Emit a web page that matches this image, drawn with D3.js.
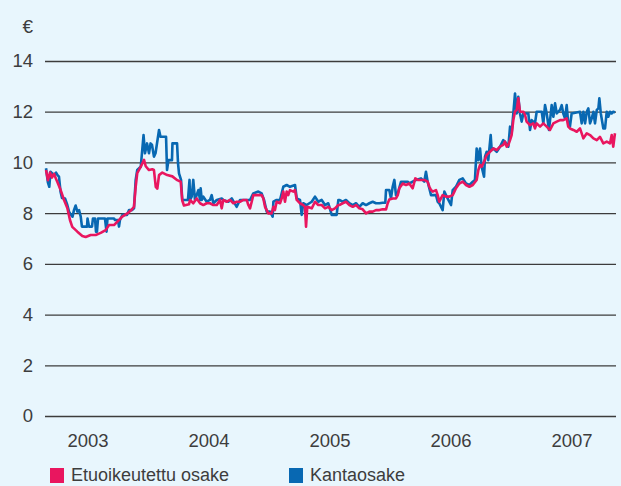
<!DOCTYPE html>
<html>
<head>
<meta charset="utf-8">
<script src="https://cdn.jsdelivr.net/npm/d3@7"></script>
<style>
  html, body { margin: 0; padding: 0; background: #e8f6fd; }
  svg { display: block; font-family: "Liberation Sans", Arial, sans-serif; }
</style>
</head>
<body>
<div id="chart"></div>
<script>
// dates as decimal years, values in euros
const prefYears = [2002.653, 2002.669, 2002.686, 2002.702, 2002.719, 2002.736, 2002.746, 2002.774, 2002.802, 2002.829,
  2002.851, 2002.870, 2002.912, 2002.953, 2002.981, 2003.022, 2003.064, 2003.105, 2003.146, 2003.174,
  2003.215, 2003.242, 2003.283, 2003.325, 2003.358, 2003.380, 2003.394, 2003.407, 2003.436, 2003.463,
  2003.477, 2003.504, 2003.531, 2003.545, 2003.560, 2003.573, 2003.587, 2003.614, 2003.655, 2003.697,
  2003.738, 2003.766, 2003.779, 2003.793, 2003.835, 2003.843, 2003.870, 2003.898, 2003.926, 2003.953,
  2003.981, 2004.008, 2004.036, 2004.064, 2004.091, 2004.105, 2004.118, 2004.146, 2004.174, 2004.201,
  2004.229, 2004.256, 2004.284, 2004.312, 2004.325, 2004.339, 2004.353, 2004.366, 2004.394, 2004.435,
  2004.449, 2004.463, 2004.477, 2004.490, 2004.518, 2004.532, 2004.545, 2004.559, 2004.587, 2004.601,
  2004.614, 2004.628, 2004.642, 2004.655, 2004.669, 2004.697, 2004.711, 2004.725, 2004.752, 2004.779,
  2004.793, 2004.802, 2004.812, 2004.849, 2004.876, 2004.903, 2004.931, 2004.959, 2004.986, 2005.014,
  2005.041, 2005.069, 2005.077, 2005.105, 2005.132, 2005.160, 2005.188, 2005.215, 2005.242, 2005.270,
  2005.298, 2005.325, 2005.353, 2005.380, 2005.408, 2005.435, 2005.463, 2005.477, 2005.490, 2005.518,
  2005.545, 2005.560, 2005.573, 2005.601, 2005.628, 2005.655, 2005.683, 2005.705, 2005.725, 2005.752,
  2005.779, 2005.807, 2005.821, 2005.835, 2005.849, 2005.876, 2005.890, 2005.903, 2005.917, 2005.931,
  2005.959, 2005.986, 2006.014, 2006.028, 2006.041, 2006.069, 2006.097, 2006.124, 2006.152, 2006.180,
  2006.212, 2006.226, 2006.240, 2006.253, 2006.267, 2006.295, 2006.322, 2006.350, 2006.378, 2006.405,
  2006.432, 2006.446, 2006.460, 2006.474, 2006.488, 2006.501, 2006.515, 2006.529, 2006.543, 2006.556,
  2006.570, 2006.598, 2006.612, 2006.625, 2006.653, 2006.680, 2006.694, 2006.708, 2006.736, 2006.763,
  2006.791, 2006.818, 2006.846, 2006.874, 2006.901, 2006.928, 2006.956, 2006.969, 2006.983, 2007.011,
  2007.039, 2007.066, 2007.094, 2007.122, 2007.149, 2007.177, 2007.205, 2007.231, 2007.259, 2007.287,
  2007.314, 2007.328, 2007.341, 2007.355];
const prefValues = [9.70, 9.30, 9.60, 9.40, 9.55, 9.35, 9.24, 8.91, 8.52, 8.20,
  7.73, 7.46, 7.27, 7.10, 7.06, 7.14, 7.14, 7.22, 7.33, 7.53,
  7.53, 7.66, 7.86, 7.99, 8.12, 8.25, 9.04, 9.58, 9.83, 10.10,
  9.85, 9.70, 9.73, 9.70, 9.04, 8.97, 9.50, 9.60, 9.50, 9.45,
  9.30, 9.24, 8.50, 8.30, 8.35, 8.52, 8.39, 8.58, 8.39, 8.32,
  8.39, 8.39, 8.32, 8.32, 8.52, 8.19, 8.52, 8.45, 8.52, 8.39,
  8.45, 8.45, 8.52, 8.52, 8.32, 8.19, 8.45, 8.71, 8.71, 8.71,
  8.58, 8.25, 8.12, 7.99, 7.99, 8.25, 8.12, 8.45, 8.39, 8.58,
  8.85, 8.45, 8.85, 8.71, 8.91, 8.85, 8.91, 8.52, 8.39, 8.32,
  8.25, 7.47, 8.25, 8.19, 8.45, 8.32, 8.32, 8.19, 8.25, 8.12,
  8.19, 8.32, 8.32, 8.39, 8.45, 8.32, 8.25, 8.32, 8.19, 8.15,
  7.99, 8.06, 8.06, 8.12, 8.12, 8.15, 8.15, 8.39, 8.54, 8.58,
  8.58, 8.71, 8.98, 9.17, 9.11, 9.17, 8.98, 9.37, 9.31, 9.31,
  9.31, 9.24, 9.04, 8.91, 8.85, 8.91, 8.71, 8.45, 8.58, 8.71,
  8.65, 8.65, 8.71, 8.85, 8.98, 9.17, 9.24, 9.11, 9.04, 9.11,
  9.31, 9.70, 9.90, 9.83, 9.96, 10.29, 10.42, 10.55, 10.49, 10.62,
  10.69, 10.82, 10.62, 10.69, 10.88, 11.08, 11.67, 12.00, 12.07, 12.53,
  12.00, 12.00, 11.87, 11.61, 11.47, 11.54, 11.34, 11.54, 11.41, 11.54,
  11.41, 11.28, 11.54, 11.61, 11.67, 11.67, 11.74, 11.41, 11.34, 11.28,
  11.21, 11.34, 10.95, 11.15, 11.08, 10.95, 10.88, 11.01, 10.75, 10.82,
  10.75, 11.08, 10.62, 11.15];

const commonYears = [2002.653, 2002.669, 2002.680, 2002.690, 2002.719, 2002.736, 2002.748, 2002.760, 2002.773, 2002.785,
  2002.810, 2002.829, 2002.843, 2002.860, 2002.872, 2002.884, 2002.898, 2002.912, 2002.926, 2002.940,
  2002.950, 2002.992, 2002.996, 2003.008, 2003.033, 2003.041, 2003.058, 2003.066, 2003.074, 2003.083,
  2003.140, 2003.153, 2003.161, 2003.215, 2003.223, 2003.248, 2003.256, 2003.264, 2003.285, 2003.322,
  2003.339, 2003.364, 2003.380, 2003.394, 2003.407, 2003.436, 2003.459, 2003.471, 2003.488, 2003.504,
  2003.517, 2003.529, 2003.545, 2003.558, 2003.587, 2003.599, 2003.645, 2003.653, 2003.665, 2003.694,
  2003.698, 2003.736, 2003.744, 2003.752, 2003.769, 2003.779, 2003.826, 2003.839, 2003.843, 2003.857,
  2003.870, 2003.884, 2003.912, 2003.926, 2003.931, 2003.940, 2003.953, 2003.981, 2004.008, 2004.022,
  2004.036, 2004.064, 2004.105, 2004.118, 2004.160, 2004.188, 2004.229, 2004.256, 2004.298, 2004.339,
  2004.366, 2004.408, 2004.435, 2004.455, 2004.477, 2004.504, 2004.526, 2004.532, 2004.559, 2004.587,
  2004.614, 2004.642, 2004.669, 2004.711, 2004.725, 2004.752, 2004.766, 2004.779, 2004.807, 2004.849,
  2004.876, 2004.903, 2004.931, 2004.959, 2004.986, 2005.014, 2005.055, 2005.069, 2005.077, 2005.105,
  2005.132, 2005.160, 2005.188, 2005.215, 2005.242, 2005.270, 2005.298, 2005.325, 2005.353, 2005.380,
  2005.408, 2005.435, 2005.457, 2005.463, 2005.490, 2005.504, 2005.518, 2005.532, 2005.545, 2005.560,
  2005.587, 2005.642, 2005.655, 2005.683, 2005.711, 2005.752, 2005.779, 2005.793, 2005.807, 2005.835,
  2005.876, 2005.890, 2005.903, 2005.931, 2005.945, 2005.972, 2006.000, 2006.014, 2006.041, 2006.069,
  2006.097, 2006.124, 2006.152, 2006.180, 2006.198, 2006.212, 2006.226, 2006.240, 2006.253, 2006.273,
  2006.281, 2006.295, 2006.308, 2006.328, 2006.336, 2006.350, 2006.378, 2006.405, 2006.432, 2006.446,
  2006.474, 2006.488, 2006.501, 2006.515, 2006.529, 2006.543, 2006.556, 2006.570, 2006.584, 2006.598,
  2006.639, 2006.653, 2006.667, 2006.694, 2006.708, 2006.750, 2006.763, 2006.777, 2006.791, 2006.810,
  2006.832, 2006.846, 2006.860, 2006.874, 2006.901, 2006.915, 2006.928, 2006.942, 2006.956, 2006.969,
  2006.983, 2006.997, 2007.066, 2007.080, 2007.094, 2007.108, 2007.122, 2007.135, 2007.149, 2007.163,
  2007.177, 2007.190, 2007.205, 2007.218, 2007.226, 2007.238, 2007.259, 2007.273, 2007.287, 2007.300,
  2007.314, 2007.328, 2007.341, 2007.355];
const commonValues = [9.77, 9.20, 9.04, 9.63, 9.50, 9.60, 9.50, 9.44, 8.85, 8.60,
  8.58, 8.32, 8.06, 7.93, 7.86, 8.12, 8.30, 8.06, 8.12, 7.86,
  7.47, 7.47, 7.79, 7.47, 7.47, 7.79, 7.79, 7.27, 7.27, 7.79,
  7.79, 7.27, 7.79, 7.79, 7.73, 7.73, 7.47, 7.73, 7.93, 7.93,
  8.12, 8.12, 8.19, 9.31, 9.70, 9.83, 11.08, 10.36, 10.75, 10.36,
  10.75, 10.69, 10.23, 10.36, 11.28, 11.01, 11.01, 9.70, 10.09, 10.09,
  10.75, 10.75, 9.96, 9.57, 9.31, 8.52, 8.52, 9.31, 8.52, 8.65,
  9.31, 8.52, 8.91, 8.52, 8.98, 8.52, 8.65, 8.45, 8.52, 8.71,
  8.39, 8.52, 8.58, 8.52, 8.45, 8.58, 8.25, 8.52, 8.52, 8.52,
  8.78, 8.85, 8.78, 8.52, 8.06, 8.06, 7.86, 8.45, 8.52, 8.52,
  9.04, 9.11, 9.04, 9.11, 8.58, 8.52, 7.93, 8.39, 8.32, 8.45,
  8.65, 8.45, 8.52, 8.32, 8.39, 7.93, 7.93, 8.52, 8.52, 8.45,
  8.52, 8.39, 8.32, 8.39, 8.25, 8.39, 8.32, 8.39, 8.45, 8.39,
  8.39, 8.41, 8.41, 8.91, 8.91, 8.58, 9.04, 9.31, 8.71, 8.78,
  9.24, 9.24, 9.17, 9.24, 9.31, 9.37, 9.24, 9.63, 9.24, 8.71,
  8.71, 8.45, 8.39, 8.12, 8.85, 8.58, 8.32, 8.91, 9.04, 9.31,
  9.37, 9.17, 9.11, 9.24, 9.31, 10.55, 10.09, 10.55, 9.83, 9.44,
  10.23, 10.42, 10.09, 11.08, 10.49, 10.55, 10.42, 10.62, 10.88, 10.82,
  10.62, 11.41, 11.15, 11.93, 12.72, 11.93, 12.59, 11.93, 11.61, 11.93,
  11.93, 11.28, 11.67, 11.54, 12.00, 12.00, 11.54, 12.26, 11.93, 11.28,
  12.26, 11.80, 12.33, 11.93, 12.07, 12.26, 11.93, 11.74, 12.26, 11.54,
  11.41, 11.93, 12.00, 11.54, 12.00, 11.54, 12.00, 12.13, 11.54, 11.74,
  12.00, 11.54, 12.07, 12.13, 12.53, 11.93, 11.34, 11.34, 12.00, 11.80,
  12.00, 11.93, 12.00, 11.97];

const yearLabels = [2003, 2004, 2005, 2006, 2007];
const valueTicks = [0, 2, 4, 6, 8, 10, 12, 14];
const seriesNames = ["Etuoikeutettu osake", "Kantaosake"];
const seriesColors = ["#e9165f", "#0868b2"];

const width = 621, height = 486;
const margin = { top: 61, right: 5, bottom: 70, left: 45 };
const textColor = "#3d3d3d";

const svg = d3.select("#chart").append("svg")
  .attr("width", width)
  .attr("height", height);

svg.append("rect")
  .attr("width", width)
  .attr("height", height)
  .attr("fill", "#e8f6fd");

const x = d3.scaleLinear()
  .domain([2002.6446, 2007.3636])
  .range([margin.left, width - margin.right]);

const y = d3.scaleLinear()
  .domain([0, 14])
  .range([height - margin.bottom, margin.top]);

// gridlines + value labels
const yAxis = svg.append("g")
  .attr("transform", `translate(${margin.left},0)`)
  .call(d3.axisLeft(y)
    .tickValues(valueTicks)
    .tickSize(-(width - margin.left - margin.right))
    .tickPadding(12));

yAxis.select(".domain").remove();
yAxis.selectAll(".tick line")
  .attr("stroke", "#3c3c3c")
  .attr("stroke-width", 1.3);
yAxis.selectAll(".tick text")
  .attr("fill", textColor)
  .style("font-size", "18.5px");

svg.append("text")
  .attr("x", 33)
  .attr("y", 33)
  .attr("text-anchor", "end")
  .attr("fill", textColor)
  .style("font-size", "19px")
  .text("€");

// year labels
svg.append("g")
  .selectAll("text")
  .data(yearLabels)
  .enter().append("text")
  .attr("x", d => x(d))
  .attr("y", 447)
  .attr("text-anchor", "middle")
  .attr("fill", textColor)
  .style("font-size", "18.5px")
  .text(d => d);

const line = d3.line()
  .x(d => x(d[0]))
  .y(d => y(d[1]));

// blue drawn first, red on top
const series = [
  d3.zip(commonYears, commonValues),
  d3.zip(prefYears, prefValues)
];
const seriesColorOrder = [seriesColors[1], seriesColors[0]];

svg.append("g")
  .selectAll("path")
  .data(series)
  .enter().append("path")
  .attr("fill", "none")
  .attr("stroke", (d, i) => seriesColorOrder[i])
  .attr("stroke-width", 2.6)
  .attr("stroke-linejoin", "round")
  .attr("d", line);

// legend (kept just inside the bottom edge)
const legendX = [50, 289];
const legend = svg.append("g")
  .selectAll("g")
  .data(seriesNames)
  .enter().append("g")
  .attr("transform", (d, i) => `translate(${legendX[i]},468)`);

legend.append("rect")
  .attr("width", 14)
  .attr("height", 15)
  .attr("fill", (d, i) => seriesColors[i]);

legend.append("text")
  .attr("x", 21)
  .attr("y", 13)
  .attr("fill", textColor)
  .style("font-size", "18px")
  .text(d => d);
</script>
</body>
</html>
